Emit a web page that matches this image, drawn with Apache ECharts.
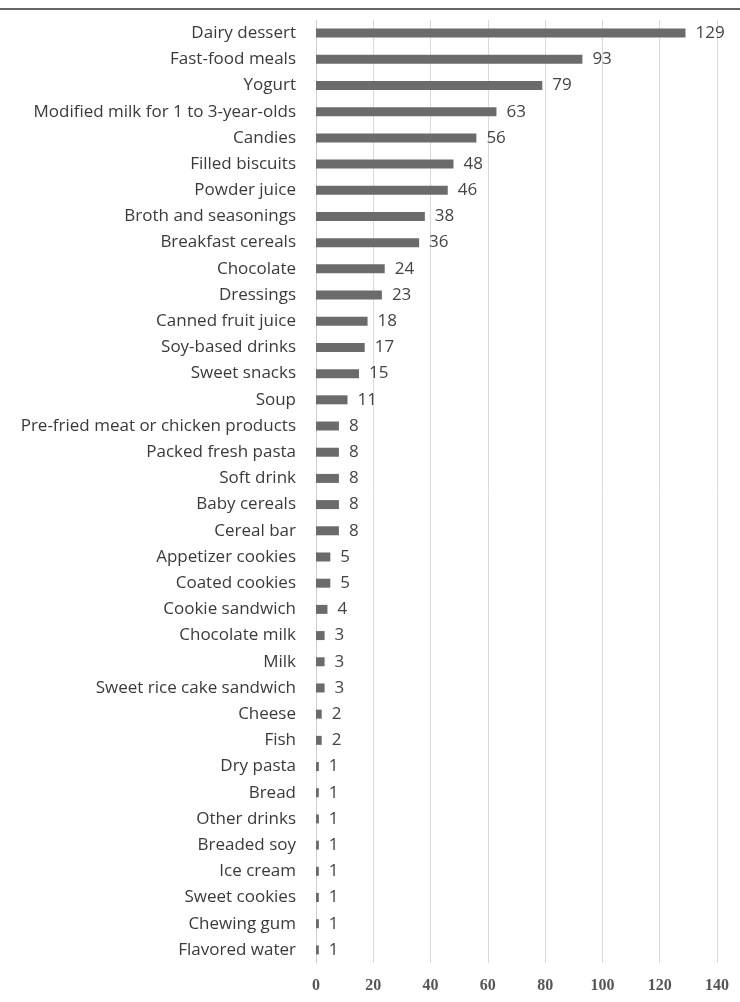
<!DOCTYPE html>
<html>
<head>
<meta charset="utf-8">
<style>
  html, body { margin: 0; padding: 0; background: #fff; }
  #chart { width: 740px; height: 1002px; }
</style>
<script src="https://cdn.jsdelivr.net/npm/echarts@6/dist/echarts.min.js"></script>
</head>
<body>
<div id="chart"></div>
<script>
// categories top to bottom, as in the picture
const categories = [
  "Dairy dessert", "Fast-food meals", "Yogurt", "Modified milk for 1 to 3-year-olds",
  "Candies", "Filled biscuits", "Powder juice", "Broth and seasonings",
  "Breakfast cereals", "Chocolate", "Dressings", "Canned fruit juice",
  "Soy-based drinks", "Sweet snacks", "Soup", "Pre-fried meat or chicken products",
  "Packed fresh pasta", "Soft drink", "Baby cereals", "Cereal bar",
  "Appetizer cookies", "Coated cookies", "Cookie sandwich", "Chocolate milk",
  "Milk", "Sweet rice cake sandwich", "Cheese", "Fish",
  "Dry pasta", "Bread", "Other drinks", "Breaded soy",
  "Ice cream", "Sweet cookies", "Chewing gum", "Flavored water"
];
const counts = [
  129, 93, 79, 63,
  56, 48, 46, 38,
  36, 24, 23, 18,
  17, 15, 11, 8,
  8, 8, 8, 8,
  5, 5, 4, 3,
  3, 3, 2, 2,
  1, 1, 1, 1,
  1, 1, 1, 1
];
const xTicks = [0, 20, 40, 60, 80, 100, 120, 140];

const font = "Open Sans";
let chart = echarts.init(document.getElementById("chart"));
chart.setOption({
  animation: false,
  backgroundColor: "#fff",
  textStyle: { fontFamily: font },
  grid: { left: 316, right: 23, top: 20, bottom: 39, containLabel: false },
  graphic: [
    { type: "line", shape: { x1: 0, y1: 9, x2: 740, y2: 9 }, style: { stroke: "#333", lineWidth: 1.5 } }
  ],
  xAxis: {
    type: "value",
    min: xTicks[0],
    max: xTicks[xTicks.length - 1],
    interval: 20,
    axisLine: { show: false },
    axisTick: { show: false },
    splitLine: { show: true, lineStyle: { color: "#d9d9d9", width: 1 } },
    axisLabel: { color: "#555", fontSize: 16, fontWeight: "bold", margin: 15, fontFamily: "Liberation Serif" }
  },
  yAxis: {
    type: "category",
    inverse: true,
    data: categories,
    axisLine: { show: true, lineStyle: { color: "#cfcfcf", width: 1 } },
    axisTick: { show: false },
    axisLabel: { color: "#3a3a3a", fontSize: 17, margin: 20, fontFamily: font, interval: 0 }
  },
  series: [
    {
      type: "bar",
      data: counts,
      barWidth: 9,
      itemStyle: { color: "#6b6b6b" },
      label: { show: true, position: "right", distance: 10, color: "#444", fontSize: 17, fontFamily: font }
    }
  ]
});
</script>
</body>
</html>
